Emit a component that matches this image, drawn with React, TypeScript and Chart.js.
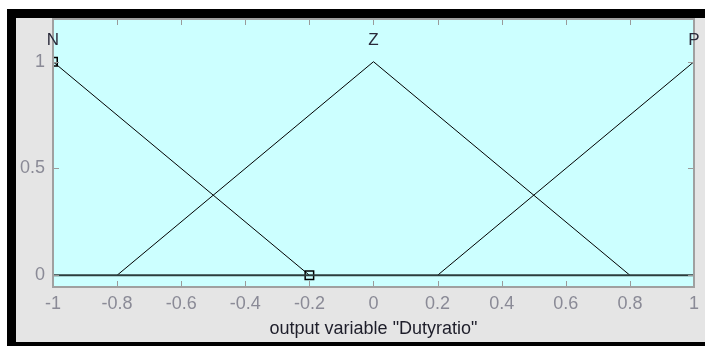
import React, { useEffect, useRef } from 'react';
import { Chart, registerables } from 'chart.js';

Chart.register(...registerables);

// ---- data ----
const xTicks = [-1, -0.8, -0.6, -0.4, -0.2, 0, 0.2, 0.4, 0.6, 0.8, 1];
const yTicks = [0, 0.5, 1];
const mfNames = ['N', 'Z', 'P'];
const mfPeaks = [-1, 0, 1];
const mfN_x = [-1, -0.2];
const mfN_y = [1, 0];
const mfZ_x = [-0.8, 0, 0.8];
const mfZ_y = [0, 1, 0];
const mfP_x = [0.2, 1];
const mfP_y = [0, 1];
const base_x = [-1, 1];
const base_y = [0, 0];
const marker_x = [-1, -0.2];
const marker_y = [1, 0];
const xTitle = 'output variable "Dutyratio"';

const pts = (xs: number[], ys: number[]) => xs.map((x, i) => ({ x, y: ys[i] }));

const FONT = '"Liberation Sans", Arial, sans-serif';

const framePlugin = {
  id: 'frame',
  beforeDraw(chart: any) {
    const { ctx, width, height, chartArea: a } = chart;
    ctx.save();
    ctx.fillStyle = '#ffffff';
    ctx.fillRect(0, 0, width, height);
    ctx.fillStyle = '#000000';
    ctx.fillRect(7, 9, width - 7, height - 9);
    ctx.fillStyle = '#e5e5e5';
    ctx.fillRect(16, 18, width - 16, height - 4 - 18);
    ctx.fillStyle = '#ccffff';
    ctx.fillRect(a.left, a.top, a.right - a.left, a.bottom - a.top);
    ctx.restore();
  },
  afterDatasetsDraw(chart: any) {
    const { ctx, chartArea: a, scales } = chart;
    const xs = scales.x;
    const ys = scales.y;
    ctx.save();
    ctx.strokeStyle = '#9a9a9a';
    ctx.lineWidth = 1;
    ctx.beginPath();
    xTicks.forEach((v) => {
      const px = Math.round(xs.getPixelForValue(v)) + 0.5;
      ctx.moveTo(px, a.bottom);
      ctx.lineTo(px, a.bottom - 6);
      ctx.moveTo(px, a.top);
      ctx.lineTo(px, a.top + 6);
    });
    yTicks.forEach((v) => {
      const py = Math.round(ys.getPixelForValue(v)) + 0.5;
      ctx.moveTo(a.left, py);
      ctx.lineTo(a.left + 6, py);
      ctx.moveTo(a.right, py);
      ctx.lineTo(a.right - 6, py);
    });
    ctx.stroke();
    ctx.lineWidth = 2;
    ctx.strokeStyle = '#a0a0a0';
    ctx.strokeRect(a.left, a.top, a.right - a.left, a.bottom - a.top);
    // MF names
    ctx.fillStyle = '#2a2a3a';
    ctx.font = `17px ${FONT}`;
    ctx.textAlign = 'center';
    ctx.textBaseline = 'middle';
    mfNames.forEach((n, i) => {
      ctx.fillText(n, xs.getPixelForValue(mfPeaks[i]), 40);
    });
    ctx.restore();
  },
};

export default function App() {
  const ref = useRef<HTMLCanvasElement>(null);
  useEffect(() => {
    if (!ref.current) return;
    const lineDs = (label: string, xs: number[], ys: number[]) => ({
      label,
      data: pts(xs, ys),
      borderColor: '#000000',
      borderWidth: 1,
      pointRadius: 0,
      fill: false,
      tension: 0,
    });
    const chart = new Chart(ref.current, {
      type: 'line',
      data: {
        datasets: [
          {
            label: 'base',
            data: pts(base_x, base_y),
            borderColor: '#2c3c3c',
            borderWidth: 2,
            pointRadius: 0,
            fill: false,
          },
          lineDs('N', mfN_x, mfN_y),
          lineDs('Z', mfZ_x, mfZ_y),
          lineDs('P', mfP_x, mfP_y),
          {
            label: 'markers',
            data: pts(marker_x, marker_y),
            showLine: false,
            pointStyle: 'rect',
            pointRadius: 6,
            pointBorderColor: '#000000',
            pointBackgroundColor: 'rgba(0,0,0,0)',
            pointBorderWidth: 1.5,
          },
        ],
      } as any,
      options: {
        animation: false,
        responsive: false,
        devicePixelRatio: 1,
        layout: { padding: { top: 19, right: 9, bottom: 0, left: 0 }, autoPadding: false } as any,
        plugins: { legend: { display: false }, tooltip: { enabled: false } },
        scales: {
          x: {
            type: 'linear',
            min: -1,
            max: 1,
            grid: { display: false, drawTicks: false },
            border: { display: false },
            afterBuildTicks: (s: any) => {
              s.ticks = xTicks.map((v) => ({ value: v }));
            },
            afterFit: (s: any) => {
              s.height = 59;
            },
            ticks: {
              autoSkip: false,
              maxRotation: 0,
              padding: 6,
              color: '#8a8a96',
              font: { family: FONT, size: 18 },
              callback: (v: any) => String(Math.round(Number(v) * 10) / 10),
            },
            title: {
              display: true,
              text: xTitle,
              color: '#1e1e2a',
              font: { family: FONT, size: 18 },
              padding: { top: 0, bottom: 6 },
            },
          },
          y: {
            type: 'linear',
            min: -0.055,
            max: 1.2,
            grid: { display: false, drawTicks: false },
            border: { display: false },
            afterBuildTicks: (s: any) => {
              s.ticks = yTicks.map((v) => ({ value: v }));
            },
            afterFit: (s: any) => {
              s.width = 53;
            },
            ticks: {
              padding: 8,
              color: '#8a8a96',
              font: { family: FONT, size: 18 },
              callback: (v: any) => String(v),
            },
          },
        },
      } as any,
      plugins: [framePlugin],
    });
    return () => chart.destroy();
  }, []);
  return (
    <div style={{ position: 'fixed', left: 0, top: 0, width: 705, height: 346 }}>
      <canvas ref={ref} width={705} height={346} style={{ display: 'block' }} />
    </div>
  );
}
